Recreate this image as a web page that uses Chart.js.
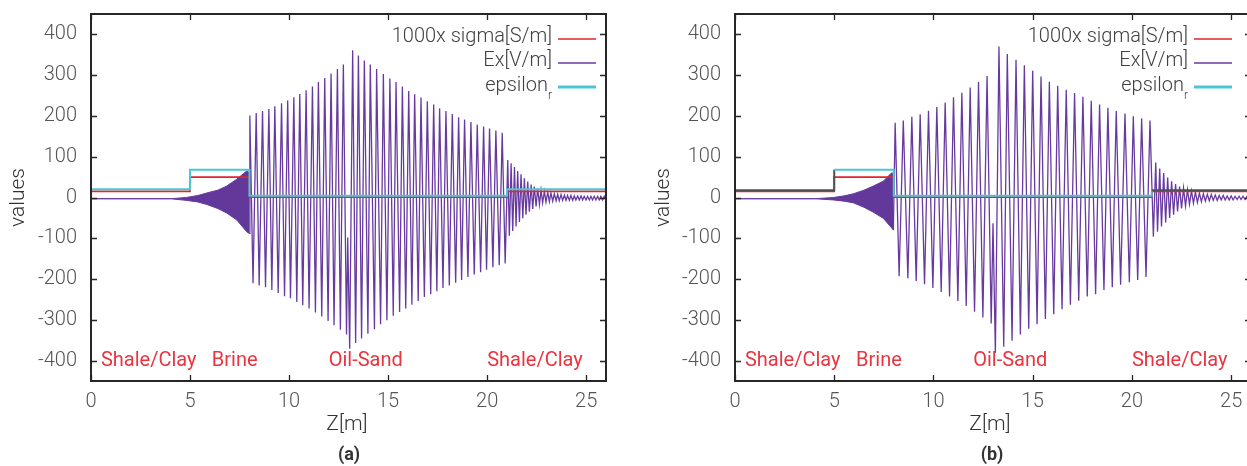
<!DOCTYPE html>
<html>
<head>
<meta charset="utf-8">
<script src="https://cdn.jsdelivr.net/npm/chart.js@4.4.1/dist/chart.umd.min.js"></script>
<style>
	html, body { margin: 0; padding: 0; background: #fff; overflow: hidden; width: 1247px; height: 466px; }
	canvas { position: absolute; top: 0; }
	#chartA { left: 0; }
	#chartB { left: 640px; }
</style>
</head>
<body>
<canvas id="chartA" width="640" height="466"></canvas>
<canvas id="chartB" width="640" height="466"></canvas>
<script>
// ---- shared axes and layers ----
var xTickValues = [0, 5, 10, 15, 20, 25];
var yTickValues = [-400, -300, -200, -100, 0, 100, 200, 300, 400];
var layerZ = [0, 5, 8, 21, 26];
var regionNames = ['Shale/Clay', 'Brine', 'Oil-Sand', 'Shale/Clay'];
var regionZ = [0.5, 6.1, 12.0, 20.0];
var regionValue = -400;
var legendNames = ['1000x sigma[S/m]', 'Ex[V/m]', 'epsilon'];

// ---- panel (a) ----
var aSigma = [15, 50, 1, 15, 15];
var aEps = [20, 68, 4, 20, 20];

var aBrineZ = [0, 4.0, 4.8, 5.4, 5.84, 6.4, 6.85, 7.36, 7.86, 7.98];
var aBrineUp = [-3, -3, 0, 5, 11, 18, 28, 45, 65, 62];
var aBrineLo = [-3, -3, -7, -11, -17, -27, -38, -55, -84, -88];

var aOilTopZ = [8.02, 8.34, 8.66, 8.98, 9.28, 9.62, 9.93, 10.24, 10.54, 10.86,
	11.18, 11.48, 11.80, 12.12, 12.44, 12.74, 12.96, 13.21, 13.50, 13.80, 14.10,
	14.42, 14.76, 15.09, 15.40, 15.72, 16.04, 16.34, 16.66, 16.98, 17.30, 17.60,
	17.92, 18.24, 18.56, 18.86, 19.18, 19.50, 19.82, 20.12, 20.44, 20.76];
var aOilTopV = [201, 207, 212, 217, 224, 231, 238, 246, 254, 263,
	272, 283, 293, 304, 315, 326, -98, 361, 348, 336, 326,
	315, 303, 292, 283, 272, 261, 253, 245, 236, 228, 219,
	212, 205, 197, 191, 185, 179, 174, 169, 164, 159];
var aOilBotZ = [8.18, 8.49, 8.81, 9.13, 9.45, 9.77, 10.07, 10.39, 10.69, 11.01,
	11.33, 11.65, 11.97, 12.27, 12.59, 12.90, 13.06, 13.36, 13.66, 13.98, 14.31,
	14.62, 14.94, 15.26, 15.58, 15.89, 16.20, 16.52, 16.83, 17.15, 17.46, 17.77,
	18.09, 18.41, 18.71, 19.03, 19.35, 19.67, 19.97, 20.29, 20.61, 20.91];
var aOilBotV = [-210, -216, -220, -227, -234, -242, -247, -256, -264, -272,
	-282, -292, -303, -313, -324, -336, -371, -357, -346, -334, -323,
	-311, -301, -290, -281, -272, -263, -254, -244, -237, -230, -222,
	-216, -209, -202, -195, -189, -183, -177, -171, -166, -162];

var aTailTopZ = [21.04, 21.21, 21.38, 21.54, 21.71, 21.88, 22.05, 22.22, 22.38, 22.55,
	22.72, 22.89, 23.06, 23.22, 23.39, 23.56, 23.73, 23.90, 24.06, 24.23,
	24.40, 24.57, 24.74, 24.90, 25.07, 25.24, 25.41, 25.58, 25.74, 25.91];
var aTailTopV = [92, 84, 75, 65, 57, 47, 39, 32, 27, 22,
	18, 15, 13, 11, 9, 8, 7, 6, 5, 5,
	4, 4, 4, 3, 3, 3, 3, 3, 3, 3];
var aTailBotZ = [21.12, 21.29, 21.46, 21.63, 21.80, 21.96, 22.13, 22.30, 22.47, 22.64,
	22.80, 22.97, 23.14, 23.31, 23.48, 23.64, 23.81, 23.98, 24.15, 24.32,
	24.48, 24.65, 24.82, 24.99, 25.16, 25.32, 25.49, 25.66, 25.83, 26.00];
var aTailBotV = [-94, -82, -71, -60, -51, -42, -35, -28, -22, -17,
	-13, -11, -10, -9, -8, -8, -7, -7, -7, -7,
	-6, -6, -6, -6, -6, -6, -6, -6, -6, -6];

// ---- panel (b) ----
var bSigma = [15, 50, 1, 15, 15];
var bEps = [18, 68, 4, 18, 18];

var bBrineZ = [0, 4.0, 4.95, 5.5, 5.96, 6.5, 6.97, 7.47, 7.9, 7.98];
var bBrineUp = [-3, -3, 0, 4, 9, 18, 28, 40, 61, 58];
var bBrineLo = [-3, -3, -6, -9, -13, -24, -36, -51, -75, -80];

var bOilTopZ = [8.07, 8.48, 8.91, 9.33, 9.75, 10.17, 10.59, 11.01, 11.43, 11.85,
	12.27, 12.70, 13.00, 13.30, 13.72, 14.16, 14.58, 15.00, 15.42, 15.84,
	16.26, 16.69, 17.11, 17.53, 17.95, 18.37, 18.79, 19.21, 19.65, 20.07,
	20.49, 20.91];
var bOilTopV = [183, 189, 198, 204, 213, 222, 233, 246, 257, 270,
	283, 298, -63, 370, 352, 338, 324, 311, 297, 284,
	274, 264, 256, 247, 237, 228, 220, 212, 206, 199,
	194, 189];
var bOilBotZ = [8.27, 8.71, 9.13, 9.55, 9.97, 10.39, 10.81, 11.23, 11.65, 12.07,
	12.49, 12.91, 13.12, 13.54, 13.96, 14.38, 14.80, 15.22, 15.64, 16.06,
	16.48, 16.90, 17.32, 17.75, 18.17, 18.59, 19.01, 19.43, 19.87, 20.29,
	20.71];
var bOilBotV = [-193, -198, -205, -213, -222, -232, -243, -254, -266, -280,
	-294, -309, -381, -366, -351, -336, -322, -311, -298, -286,
	-274, -263, -253, -243, -237, -227, -220, -214, -208, -202,
	-195];

var bTailTopZ = [21.20, 21.40, 21.60, 21.80, 22.00, 22.20, 22.40, 22.60, 22.80, 23.00,
	23.20, 23.40, 23.60, 23.80, 24.00, 24.20, 24.40, 24.60, 24.80, 25.00,
	25.20, 25.40, 25.60, 25.80, 26.00];
var bTailTopV = [86, 71, 60, 49, 40, 33, 27, 23, 19, 16,
	13, 11, 9, 8, 7, 6, 5, 5, 4, 4,
	3, 3, 3, 3, 3];
var bTailBotZ = [21.08, 21.29, 21.49, 21.70, 21.90, 22.10, 22.30, 22.50, 22.70, 22.90,
	23.10, 23.30, 23.50, 23.70, 23.90, 24.10, 24.30, 24.50, 24.70, 24.90,
	25.10, 25.30, 25.50, 25.70, 25.90];
var bTailBotV = [-96, -84, -71, -61, -50, -42, -34, -27, -21, -17,
	-14, -12, -10, -9, -8, -7, -7, -6, -6, -6,
	-6, -5, -5, -5, -5];

// ---- colours ----
var RED = '#e2242c';
var PURPLE = 'rgb(104,58,160)';
var CYAN = '#4cc6d3';
var LABEL_RED = '#ea3440';

Chart.defaults.font.family = 'Roboto';

function pontos(zs, vs) {
	return zs.map(function(z, i) { return { x: z, y: vs[i] }; });
}

function serieEx(brineZ, brineLo, listas) {
	var pts = [{ x: brineZ[brineZ.length - 1], y: brineLo[brineLo.length - 1] }];
	listas.forEach(function(l) { pts = pts.concat(pontos(l[0], l[1])); });
	pts.sort(function(p, q) { return p.x - q.x; });
	return pts;
}

var framePlugin = {
	id: 'frame',
	afterDatasetsDraw: function(chart, args, o) {
		var ctx = chart.ctx, a = chart.chartArea;
		var xs = chart.scales.x, ys = chart.scales.y;
		ctx.save();

		// layer names
		ctx.font = '20px Roboto';
		ctx.fillStyle = LABEL_RED;
		ctx.textAlign = 'left';
		ctx.textBaseline = 'middle';
		regionNames.forEach(function(t, i) {
			ctx.fillText(t, xs.getPixelForValue(regionZ[i]), ys.getPixelForValue(regionValue));
		});

		// frame and inward ticks (gnuplot style)
		ctx.strokeStyle = '#262626';
		ctx.lineWidth = 2;
		ctx.strokeRect(a.left, a.top, a.right - a.left, a.bottom - a.top);
		ctx.lineWidth = 1.3;
		ctx.beginPath();
		yTickValues.forEach(function(v) {
			var py = Math.round(ys.getPixelForValue(v)) + 0.5;
			ctx.moveTo(a.left, py); ctx.lineTo(a.left + 6, py);
			ctx.moveTo(a.right, py); ctx.lineTo(a.right - 6, py);
		});
		xTickValues.forEach(function(v) {
			var px = Math.round(xs.getPixelForValue(v)) + 0.5;
			ctx.moveTo(px, a.bottom); ctx.lineTo(px, a.bottom - 6);
			ctx.moveTo(px, a.top); ctx.lineTo(px, a.top + 6);
		});
		ctx.stroke();

		// legend
		var cores = [RED, PURPLE, CYAN];
		var larguras = [1.5, 1.5, 3];
		var linhaFim = a.right - o.legendInset;
		var linhaIni = linhaFim - 38;
		var textoFim = linhaIni - 6;
		ctx.fillStyle = '#404040';
		ctx.textAlign = 'right';
		legendNames.forEach(function(nome, i) {
			var yy = a.top + 25 + i * 24;
			if (i === 2) {
				ctx.font = '300 12px Roboto';
				var ws = ctx.measureText('r').width;
				ctx.fillText('r', textoFim, yy + 9);
				ctx.font = '300 20px Roboto';
				ctx.fillText(nome, textoFim - ws, yy - 1);
			} else {
				ctx.font = '300 20px Roboto';
				ctx.fillText(nome, textoFim, yy - 2);
			}
			ctx.strokeStyle = cores[i];
			ctx.lineWidth = larguras[i];
			ctx.beginPath();
			ctx.moveTo(linhaIni, yy); ctx.lineTo(linhaFim, yy);
			ctx.stroke();
		});

		// axis titles and caption
		ctx.fillStyle = '#333';
		ctx.textAlign = 'center';
		ctx.font = '300 21px Roboto';
		ctx.fillText('Z[m]', o.titleX, 425);
		ctx.font = 'bold 18px Roboto';
		ctx.fillText(o.caption, o.titleX + 2, 455);
		ctx.save();
		ctx.translate(o.valuesX, (a.top + a.bottom) / 2);
		ctx.rotate(-Math.PI / 2);
		ctx.font = '300 21px Roboto';
		ctx.fillText('values', 0, 0);
		ctx.restore();

		ctx.restore();
	}
};

function criarPainel(id, d, look) {
	var ctx = document.getElementById(id).getContext('2d');
	var epsSegment = look.shaleEpsColor ? {
		borderColor: function(s) {
			var z = s.p0.parsed.x;
			return (z < 5 || z >= 21) ? look.shaleEpsColor : CYAN;
		}
	} : undefined;

	return new Chart(ctx, {
		type: 'line',
		data: {
			datasets: [{
				label: 'epsilon_r',
				data: pontos(layerZ, d.eps),
				stepped: 'before',
				borderColor: CYAN,
				borderWidth: 2,
				segment: epsSegment,
				pointRadius: 0,
				fill: false,
				order: 0
			}, {
				label: '1000x sigma[S/m]',
				data: pontos(layerZ, d.sigma),
				stepped: 'before',
				borderColor: RED,
				borderWidth: 1.6,
				pointRadius: 0,
				fill: false,
				order: 1
			}, {
				label: 'Ex[V/m]',
				data: d.ex,
				borderColor: PURPLE,
				borderWidth: 1.3,
				pointRadius: 0,
				tension: 0,
				fill: false,
				order: 2
			}, {
				label: 'Ex envelope top',
				data: pontos(d.brineZ, d.brineUp),
				borderColor: PURPLE,
				borderWidth: 1,
				backgroundColor: 'rgb(98,56,154)',
				pointRadius: 0,
				fill: '+1',
				order: 3
			}, {
				label: 'Ex envelope bottom',
				data: pontos(d.brineZ, d.brineLo),
				borderColor: PURPLE,
				borderWidth: 1,
				pointRadius: 0,
				fill: false,
				order: 3
			}]
		},
		options: {
			responsive: false,
			animation: false,
			devicePixelRatio: 1,
			layout: { padding: { left: 0, top: 14, right: look.rightPad, bottom: 0 } },
			plugins: {
				legend: { display: false },
				tooltip: { enabled: false },
				frame: look
			},
			scales: {
				x: {
					type: 'linear', min: 0, max: 26,
					afterBuildTicks: function(s) { s.ticks = xTickValues.map(function(v) { return { value: v }; }); },
					afterFit: function(s) { s.height = 85; s.paddingLeft = 0; s.paddingRight = 0; },
					grid: { display: false, drawTicks: false },
					border: { display: false },
					ticks: { padding: 9, color: '#555', font: { size: 20, weight: '300' }, maxRotation: 0, autoSkip: false }
				},
				y: {
					type: 'linear', min: -450, max: 450,
					afterBuildTicks: function(s) { s.ticks = yTickValues.map(function(v) { return { value: v }; }); },
					afterFit: function(s) { s.width = look.yAxisWidth; s.paddingTop = 0; s.paddingBottom = 0; },
					grid: { display: false, drawTicks: false },
					border: { display: false },
					ticks: { padding: 14, color: '#555', font: { size: 20, weight: '300' }, autoSkip: false }
				}
			}
		},
		plugins: [framePlugin]
	});
}

var painelA = criarPainel('chartA', {
	sigma: aSigma, eps: aEps,
	brineZ: aBrineZ, brineUp: aBrineUp, brineLo: aBrineLo,
	ex: serieEx(aBrineZ, aBrineLo, [[aOilTopZ, aOilTopV], [aOilBotZ, aOilBotV], [aTailTopZ, aTailTopV], [aTailBotZ, aTailBotV]])
}, { caption: '(a)', yAxisWidth: 91, rightPad: 34, legendInset: 10, valuesX: 19, titleX: 347, shaleEpsColor: null });

var painelB = criarPainel('chartB', {
	sigma: bSigma, eps: bEps,
	brineZ: bBrineZ, brineUp: bBrineUp, brineLo: bBrineLo,
	ex: serieEx(bBrineZ, bBrineLo, [[bOilTopZ, bOilTopV], [bOilBotZ, bOilBotV], [bTailTopZ, bTailTopV], [bTailBotZ, bTailBotV]])
}, { caption: '(b)', yAxisWidth: 95, rightPad: 29, legendInset: 19, valuesX: 24, titleX: 350, shaleEpsColor: '#505050' });
</script>
</body>
</html>
